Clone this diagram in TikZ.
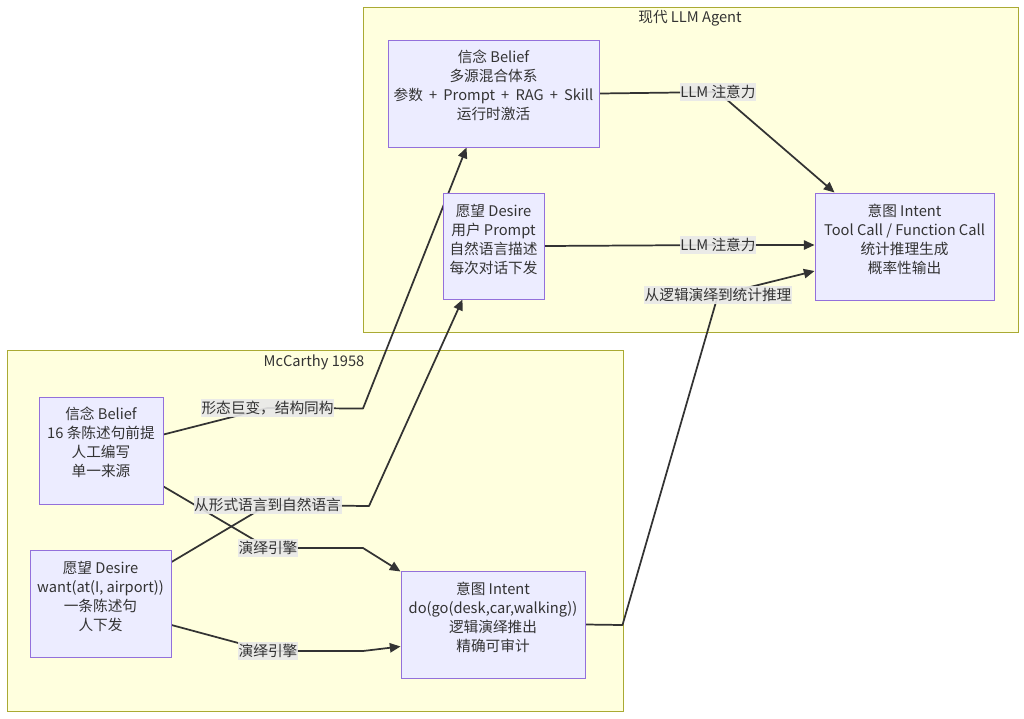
\documentclass[tikz,border=0pt]{standalone}
\usepackage{fontspec}
\setmainfont{Noto Sans CJK SC}
\usetikzlibrary{arrows.meta,calc}
\definecolor{clfill}{HTML}{FFFFDE}
\definecolor{cldraw}{HTML}{AAAA33}
\definecolor{ndfill}{HTML}{ECECFF}
\definecolor{nddraw}{HTML}{9370DB}
\definecolor{ln}{HTML}{333333}
\definecolor{lbfill}{HTML}{E8E8E8}
\pgfdeclarelayer{back}
\pgfdeclarelayer{mid}
\pgfsetlayers{back,mid,main}
\begin{document}
\begin{tikzpicture}[x=0.75pt,y=-0.75pt,
  cluster/.style={draw=cldraw,fill=clfill,line width=0.75pt},
  box/.style={draw=nddraw,fill=ndfill,line width=0.75pt,inner sep=0pt},
  txt/.style={align=center,font=\fontsize{11}{14.25}\selectfont,text=ln,inner sep=0pt},
  elab/.style={fill=lbfill,fill opacity=0.9,text opacity=1,font=\fontsize{11}{13}\selectfont,text=ln,inner xsep=0.5pt,inner ysep=1.5pt},
  ttl/.style={font=\fontsize{11}{13}\selectfont,text=ln,inner sep=0pt},
  conn/.style={draw=ln,line width=1.3pt,line join=round},
  arr/.style={conn,-{Triangle[length=8pt,width=7pt]}}]
\useasboundingbox (0,0) rectangle (1024,718);

% clusters
\begin{pgfonlayer}{back}
\draw[cluster] (363,7) rectangle (1018,332);
\draw[cluster] (7,350) rectangle (623,711);
\end{pgfonlayer}
\node[ttl] (T2) at (690,18) {现代 LLM Agent};
\node[ttl] (T1) at (314,362) {McCarthy 1958};

% boxes
\node[box,minimum width=158.25pt,minimum height=80.25pt] (B2) at (493.5,93.5) {};
\node[box,minimum width=75.75pt,minimum height=79.5pt] (D2) at (493.5,246) {};
\node[box,minimum width=134.25pt,minimum height=80.25pt] (I2) at (904.5,246.5) {};
\node[box,minimum width=93pt,minimum height=80.25pt] (B1) at (101,450.5) {};
\node[box,minimum width=105.75pt,minimum height=80.25pt] (D1) at (100.5,603.5) {};
\node[box,minimum width=138pt,minimum height=80.25pt] (I1) at (493,624.5) {};

\node[txt] (B2t) at ($(B2)+(0,-8)$) {信念 Belief\\多源混合体系\\{\spaceskip=0.42em 参数 + Prompt + RAG + Skill}\\运行时激活};
\node[txt] (D2t) at ($(D2)+(0,-7)$) {愿望 Desire\\用户 Prompt\\自然语言描述\\每次对话下发};
\node[txt] (I2t) at ($(I2)+(0,-7.5)$) {意图 Intent\\Tool Call / Function Call\\统计推理生成\\概率性输出};
\node[txt] (B1t) at ($(B1)+(0,-8.5)$) {信念 Belief\\16 条陈述句前提\\人工编写\\单一来源};
\node[txt] (D1t) at ($(D1)+(0,-7)$) {愿望 Desire\\want(at(I, airport))\\一条陈述句\\人下发};
\node[txt] (I1t) at ($(I1)+(0,-7)$) {意图 Intent\\do(go(desk,car,walking))\\逻辑演绎推出\\精确可审计};

% edge labels
\node[elab] (L1) at (267.5,408) {形态巨变，结构同构};
\node[elab] (L2) at (268,548) {演绎引擎};
\node[elab] (L3) at (267.5,505) {从形式语言到自然语言};
\node[elab] (L4) at (268,651) {演绎引擎};
\node[elab] (L5) at (718,295) {从逻辑演绎到统计推理};
\node[elab] (L6) at (718,92) {LLM 注意力};
\node[elab] (L7) at (718,245) {LLM 注意力};

% bend points
\coordinate (c1) at (363,408.5);
\coordinate (c2) at (363,548);
\coordinate (c3) at (369,506);
\coordinate (c4) at (363,651);
\coordinate (c5) at (622.5,625);

\begin{pgfonlayer}{mid}
\draw[arr] ($(B1.east)+(0,-16)$) -- (L1.center) -- (c1) -- ($(B2.south)+(-27,0)$);
\draw[arr] ($(B1.east)+(0,36)$) -- (L2.center) -- (c2) -- ($(I1.north west)+(0,1)$);
\draw[arr] ($(D1.east)+(0,-41.5)$) -- (L3.center) -- (c3) -- ($(D2.south)+(-31,0)$);
\draw[arr] ($(D1.east)+(0,21.5)$) -- (L4.center) -- (c4) -- ($(I1.west)+(0,22)$);
\draw[arr] (I1.east) -- (c5) -- (L5.center) -- ($(I2.west)+(0,24.5)$);
\draw[arr] (B2.east) -- (L6.center) -- ($(I2.north west)+(20,0)$);
\draw[arr] (D2.east) -- (L7.center) -- ($(I2.west)+(0,-1.5)$);
\end{pgfonlayer}
\end{tikzpicture}
\end{document}
